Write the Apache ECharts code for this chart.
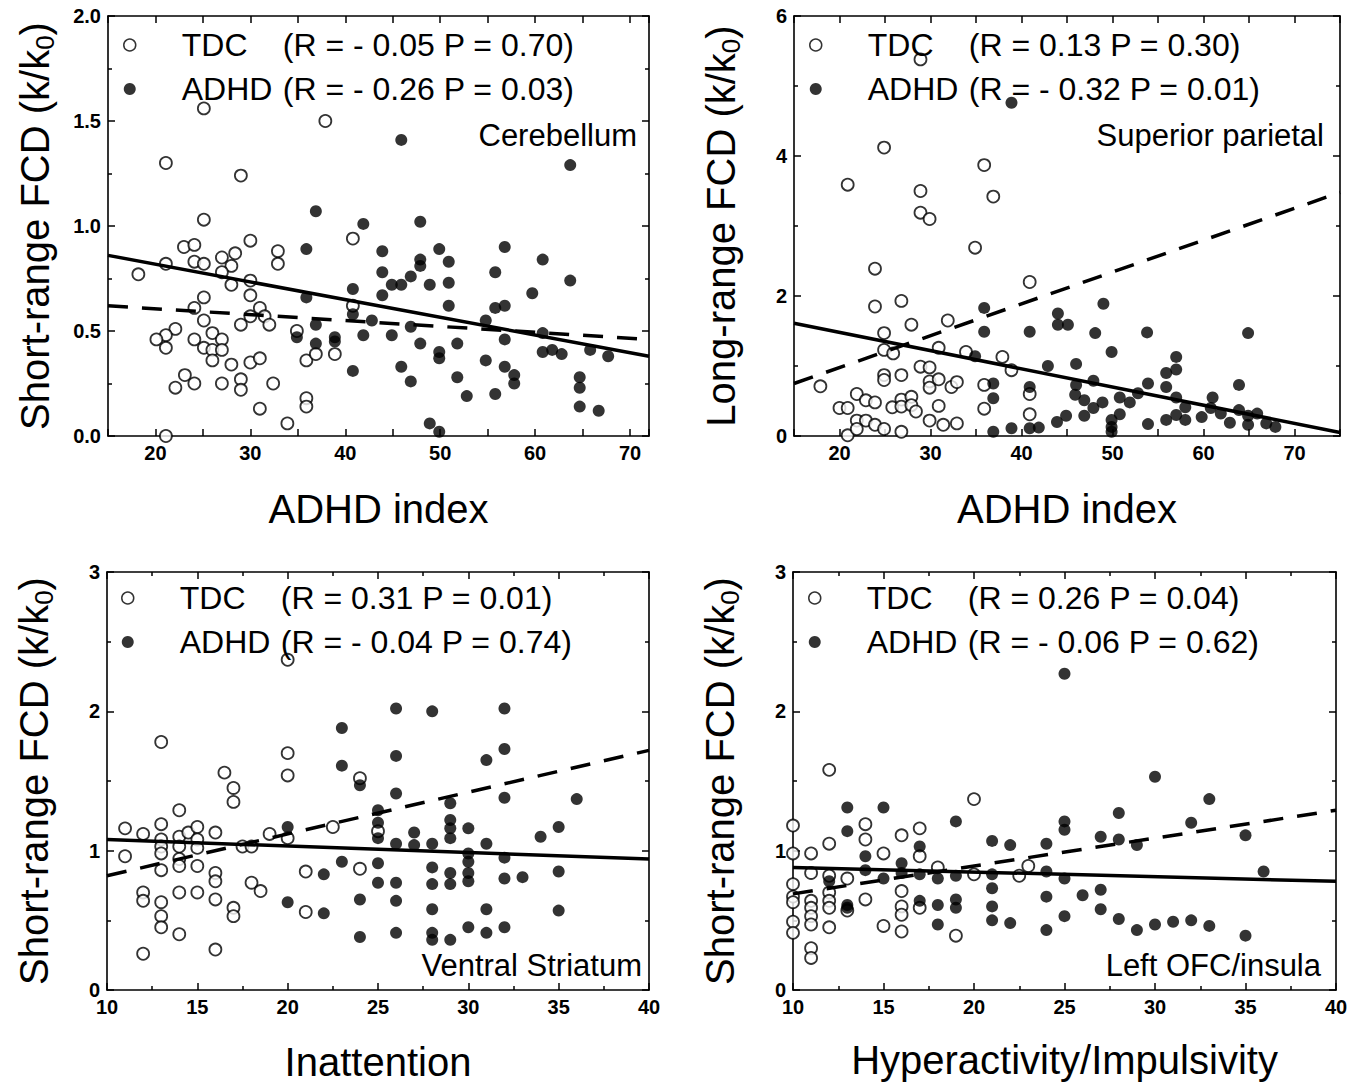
<!DOCTYPE html>
<html><head><meta charset="utf-8">
<script src="https://cdn.jsdelivr.net/npm/echarts/dist/echarts.min.js"></script>
<style>html,body{margin:0;padding:0;background:#fff}#c{width:1365px;height:1092px}</style>
</head><body><div id="c"></div>
<script>
// ---------- DATA ----------
// Panel 1: Cerebellum, short-range FCD vs ADHD index
const tdc1 = [[25.1,1.56],[37.9,1.50],[21.1,1.30],[29.0,1.24],[25.1,1.03],[40.8,0.94],[30.0,0.93],[23.0,0.90],[24.1,0.91],[32.9,0.88],[32.9,0.82],[28.4,0.87],[27.0,0.85],[28.0,0.81],[24.1,0.83],[25.1,0.82],[21.1,0.82],[18.2,0.77],[27.0,0.78],[28.0,0.72],[30.0,0.74],[30.0,0.67],[25.1,0.66],[24.1,0.61],[30.0,0.57],[31.0,0.61],[31.5,0.57],[32.0,0.53],[29.0,0.53],[25.1,0.55],[22.1,0.51],[21.1,0.48],[20.1,0.46],[21.1,0.42],[24.1,0.46],[26.0,0.49],[27.0,0.46],[25.1,0.42],[26.0,0.41],[27.0,0.41],[26.0,0.36],[28.0,0.34],[30.0,0.35],[31.0,0.37],[34.9,0.50],[35.9,0.36],[36.9,0.39],[38.9,0.39],[40.8,0.62],[23.1,0.29],[22.1,0.23],[24.1,0.25],[27.0,0.25],[29.0,0.27],[29.0,0.22],[32.4,0.25],[31.0,0.13],[35.9,0.18],[35.9,0.14],[33.9,0.06],[21.1,0.00]];
const adhd1 = [[36.9,1.07],[41.9,1.01],[35.9,0.89],[40.8,0.70],[35.9,0.66],[36.9,0.53],[34.9,0.47],[36.9,0.44],[38.9,0.47],[38.9,0.45],[40.8,0.58],[42.8,0.55],[41.9,0.48],[40.8,0.31],[45.9,1.41],[63.7,1.29],[47.9,1.02],[43.9,0.88],[49.9,0.89],[50.9,0.83],[56.8,0.90],[60.8,0.84],[47.9,0.84],[47.9,0.81],[43.9,0.78],[46.9,0.76],[44.9,0.72],[45.9,0.72],[48.9,0.72],[50.9,0.73],[55.8,0.78],[63.7,0.74],[59.7,0.68],[43.9,0.67],[50.9,0.62],[55.8,0.61],[56.8,0.62],[46.9,0.52],[54.8,0.55],[44.9,0.48],[47.9,0.44],[51.8,0.44],[56.8,0.46],[49.9,0.40],[49.9,0.37],[54.8,0.36],[45.9,0.33],[56.8,0.33],[60.8,0.49],[60.8,0.40],[61.8,0.41],[62.8,0.39],[65.8,0.41],[67.7,0.38],[46.9,0.26],[51.8,0.28],[57.8,0.29],[57.8,0.25],[64.7,0.28],[64.7,0.23],[52.8,0.19],[55.8,0.20],[64.7,0.14],[66.7,0.12],[48.9,0.06],[49.9,0.02]];
const fitTdc1 = [[15,0.62],[72,0.46]];
const fitAdhd1 = [[15,0.86],[72,0.38]];
const stats1 = ['(R = - 0.05 P = 0.70)', '(R = - 0.26 P = 0.03)'];
const region1 = 'Cerebellum';
const xRange1 = [15, 72];
const xLabels1 = [20, 30, 40, 50, 60, 70];
const yTicks1 = [0, 0.5, 1.0, 1.5, 2.0];

// Panel 2: Superior parietal, long-range FCD vs ADHD index
const tdc2 = [[28.9,5.38],[24.9,4.12],[20.9,3.59],[35.9,3.87],[36.9,3.42],[28.9,3.50],[28.9,3.19],[29.9,3.10],[34.9,2.69],[23.9,2.39],[40.9,2.20],[23.9,1.85],[26.8,1.93],[31.9,1.65],[27.9,1.59],[24.9,1.47],[24.9,1.23],[25.9,1.18],[30.9,1.26],[33.9,1.20],[37.9,1.13],[38.9,0.94],[28.9,0.99],[29.9,0.98],[24.9,0.87],[24.9,0.80],[26.8,0.87],[29.9,0.78],[29.9,0.69],[30.9,0.81],[32.3,0.70],[32.9,0.77],[35.9,0.73],[40.9,0.60],[17.9,0.71],[21.9,0.60],[22.9,0.51],[23.9,0.48],[20.0,0.40],[20.9,0.40],[25.8,0.41],[26.8,0.52],[26.8,0.42],[27.9,0.56],[27.9,0.44],[28.4,0.35],[30.9,0.43],[35.9,0.39],[40.9,0.31],[21.9,0.22],[22.9,0.22],[23.9,0.16],[24.9,0.10],[26.8,0.06],[29.9,0.22],[31.4,0.16],[32.9,0.18],[20.9,0.01],[21.9,0.10]];
const adhd2 = [[38.9,4.76],[35.9,1.83],[35.9,1.49],[40.9,1.49],[34.9,1.14],[36.9,0.75],[36.9,0.54],[40.9,0.70],[42.9,1.00],[36.9,0.06],[38.9,0.11],[40.9,0.11],[41.9,0.12],[43.9,0.20],[44.0,1.75],[44.0,1.59],[45.1,1.59],[49.0,1.89],[48.1,1.47],[53.8,1.48],[64.9,1.47],[49.9,1.20],[46.0,1.03],[57.0,1.13],[57.0,0.95],[55.9,0.90],[47.9,0.79],[46.0,0.73],[55.9,0.70],[53.9,0.75],[63.9,0.73],[45.9,0.59],[46.9,0.51],[50.8,0.55],[51.9,0.48],[52.8,0.61],[57.0,0.55],[58.0,0.41],[61.0,0.55],[60.8,0.40],[47.9,0.40],[48.9,0.48],[46.9,0.29],[44.9,0.29],[50.8,0.31],[49.9,0.23],[49.9,0.13],[49.9,0.06],[53.9,0.17],[55.9,0.23],[57.0,0.30],[58.0,0.23],[59.8,0.27],[61.9,0.32],[62.9,0.19],[63.9,0.37],[64.9,0.29],[64.9,0.16],[65.9,0.32],[66.9,0.18],[67.9,0.13]];
const fitTdc2 = [[15,0.75],[75,3.48]];
const fitAdhd2 = [[15,1.61],[75,0.05]];
const stats2 = ['(R = 0.13 P = 0.30)', '(R = - 0.32 P = 0.01)'];
const region2 = 'Superior parietal';
const xRange2 = [15, 75];
const xLabels2 = [20, 30, 40, 50, 60, 70];
const yTicks2 = [0, 2, 4, 6];

// Panel 3: Ventral Striatum, short-range FCD vs Inattention
const tdc3 = [[20,2.37],[13,1.78],[20,1.70],[20,1.54],[16.5,1.56],[17,1.45],[17,1.35],[14,1.29],[24,1.52],[11,1.16],[12,1.12],[13,1.19],[14,1.10],[14.5,1.13],[15,1.17],[16,1.13],[19,1.12],[20,1.09],[13,1.08],[13,1.03],[14,1.03],[15,1.08],[15,1.02],[13,0.98],[11,0.96],[14,0.94],[14,0.89],[15,0.89],[13,0.86],[17.5,1.03],[18,1.03],[22.5,1.17],[16,0.84],[16,0.78],[18,0.77],[18.5,0.71],[21,0.85],[24,0.87],[12,0.70],[12,0.64],[14,0.70],[15,0.70],[16,0.65],[13,0.63],[13,0.53],[13,0.45],[17,0.59],[17,0.53],[14,0.40],[21,0.56],[12,0.26],[16,0.29],[25,1.14]];
const adhd3 = [[23,1.88],[23,1.61],[24,1.47],[20,1.17],[25,1.29],[23,0.92],[25,0.91],[22,0.83],[25,0.77],[20,0.63],[22,0.55],[24,0.65],[24,0.38],[26,2.02],[28,2.00],[32,2.02],[26,1.68],[32,1.73],[31,1.65],[26,1.41],[32,1.38],[36,1.37],[29,1.34],[29,1.22],[29,1.16],[29,1.09],[30,1.16],[25,1.20],[25,1.09],[26,1.05],[27,1.13],[27,1.04],[28,1.05],[31,1.05],[34,1.10],[35,1.17],[30,0.98],[30,0.92],[32,0.95],[28,0.88],[29,0.84],[30,0.84],[30,0.78],[32,0.80],[33,0.81],[35,0.85],[26,0.77],[28,0.76],[29,0.76],[26,0.64],[28,0.58],[31,0.58],[35,0.57],[26,0.41],[28,0.41],[28,0.36],[29,0.36],[30,0.45],[31,0.41],[32,0.45]];
const fitTdc3 = [[10,0.82],[40,1.72]];
const fitAdhd3 = [[10,1.08],[40,0.94]];
const stats3 = ['(R = 0.31 P = 0.01)', '(R = - 0.04 P = 0.74)'];
const region3 = 'Ventral Striatum';
const xRange3 = [10, 40];
const xLabels3 = [10, 15, 20, 25, 30, 35, 40];
const yTicks3 = [0, 1, 2, 3];

// Panel 4: Left OFC/insula, short-range FCD vs Hyperactivity/Impulsivity
const tdc4 = [[12,1.58],[20,1.37],[10,1.18],[10,0.98],[10,0.76],[10,0.67],[10,0.63],[10,0.49],[10,0.41],[11,0.98],[11,0.84],[11,0.64],[11,0.59],[11,0.53],[11,0.47],[11,0.30],[11,0.23],[12,1.05],[12,0.82],[12,0.70],[12,0.64],[12,0.59],[12,0.45],[13,0.80],[13,0.57],[14,1.19],[14,1.08],[14,0.65],[15,0.98],[15,0.46],[16,1.11],[16,0.71],[16,0.60],[16,0.54],[16,0.42],[17,1.16],[17,0.96],[17,0.59],[18,0.88],[19,0.39],[20,0.83],[22.5,0.82],[23,0.89]];
const adhd4 = [[25,2.27],[13,1.31],[15,1.31],[19,1.21],[13,1.14],[14,0.96],[17,1.03],[21,1.07],[22,1.04],[24,1.05],[25,1.21],[25,1.15],[14,0.86],[12,0.78],[16,0.91],[15,0.80],[16,0.84],[17,0.83],[18,0.80],[19,0.82],[21,0.83],[21,0.73],[24,0.85],[13,0.61],[13,0.59],[17,0.64],[18,0.61],[19,0.65],[19,0.59],[21,0.60],[24,0.67],[25,0.53],[18,0.47],[21,0.50],[22,0.48],[24,0.43],[30,1.53],[33,1.37],[28,1.27],[32,1.20],[27,1.10],[28,1.08],[29,1.04],[35,1.11],[36,0.85],[25,0.80],[26,0.68],[27,0.72],[27,0.58],[28,0.51],[29,0.43],[30,0.47],[31,0.49],[32,0.50],[33,0.46],[35,0.39]];
const fitTdc4 = [[10,0.69],[40,1.29]];
const fitAdhd4 = [[10,0.88],[40,0.78]];
const stats4 = ['(R = 0.26 P = 0.04)', '(R = - 0.06 P = 0.62)'];
const region4 = 'Left OFC/insula';
const xRange4 = [10, 40];
const xLabels4 = [10, 15, 20, 25, 30, 35, 40];
const yTicks4 = [0, 1, 2, 3];

const groups = ['TDC', 'ADHD'];
const xNames = ['ADHD index', 'ADHD index', 'Inattention', 'Hyperactivity/Impulsivity'];
const yNames = ['Short-range FCD', 'Long-range FCD', 'Short-range FCD', 'Short-range FCD'];

// ---------- LAYOUT ----------
const FONT = '"Liberation Sans", Arial, Helvetica, sans-serif';
const panels = [
  {grid:{left:108,top:16,width:541,height:420}, tdc:tdc1, adhd:adhd1, fitT:fitTdc1, fitA:fitAdhd1, stats:stats1, region:region1, xRange:xRange1, xLabels:xLabels1, xMinor:false, yTicks:yTicks1, yDigits:1, legend:{left:123,top:29}, regionRight:1365-637, regionTop:120, xGap:53},
  {grid:{left:794,top:16,width:546,height:420}, tdc:tdc2, adhd:adhd2, fitT:fitTdc2, fitA:fitAdhd2, stats:stats2, region:region2, xRange:xRange2, xLabels:xLabels2, xMinor:false, yTicks:yTicks2, yDigits:0, legend:{left:809,top:29}, regionRight:1365-1324, regionTop:120, xGap:53},
  {grid:{left:107,top:572,width:542,height:418}, tdc:tdc3, adhd:adhd3, fitT:fitTdc3, fitA:fitAdhd3, stats:stats3, region:region3, xRange:xRange3, xLabels:xLabels3, xMinor:true, yTicks:yTicks3, yDigits:0, legend:{left:121,top:582}, regionRight:1365-642, regionTop:950, xGap:52},
  {grid:{left:793,top:572,width:543,height:418}, tdc:tdc4, adhd:adhd4, fitT:fitTdc4, fitA:fitAdhd4, stats:stats4, region:region4, xRange:xRange4, xLabels:xLabels4, xMinor:true, yTicks:yTicks4, yDigits:0, legend:{left:808,top:582}, regionRight:1365-1321, regionTop:950, xGap:50}
];

const tickStyle = {show:true, inside:true, length:7, lineStyle:{color:'#000', width:1.5}};
const minorStyle = (on) => ({show:on, splitNumber:2, length:4, lineStyle:{color:'#000', width:1.5}});
const lineAx = {show:true, onZero:false, lineStyle:{color:'#000', width:1.6}};
const labelStyle = {color:'#000', fontSize:20, fontWeight:'bold', fontFamily:FONT};

const option = {
  animation:false,
  backgroundColor:'#fff',
  grid:[], xAxis:[], yAxis:[], series:[], legend:[], title:[]
};

panels.forEach((p, i) => {
  option.grid.push(Object.assign({containLabel:false}, p.grid));
  const xBase = {gridIndex:i, type:'value', min:p.xRange[0], max:p.xRange[1], interval:5,
    axisLine:lineAx, axisTick:tickStyle, minorTick:minorStyle(p.xMinor), splitLine:{show:false}};
  option.xAxis.push(Object.assign({}, xBase, {position:'bottom',
    axisLabel:Object.assign({margin:7, formatter:(v)=> p.xLabels.indexOf(v) >= 0 ? String(v) : ''}, labelStyle),
    name:xNames[i], nameLocation:'middle', nameGap:p.xGap,
    nameTextStyle:{color:'#000', fontSize:40, fontFamily:FONT}}));
  option.xAxis.push(Object.assign({}, xBase, {position:'top', axisLabel:{show:false}}));
  const yt = p.yTicks;
  const yBase = {gridIndex:i, type:'value', min:yt[0], max:yt[yt.length-1], interval:yt[1]-yt[0],
    axisLine:lineAx, axisTick:tickStyle, minorTick:minorStyle(true), splitLine:{show:false}};
  option.yAxis.push(Object.assign({}, yBase, {position:'left',
    axisLabel:Object.assign({margin:7, formatter:(v)=> v.toFixed(p.yDigits)}, labelStyle),
    name:`{n|${yNames[i]} (k/k}{s|0}{n|)}`, nameLocation:'middle', nameGap:50,
    nameTextStyle:{color:'#000', fontFamily:FONT, rich:{
      n:{fontSize:40, fontFamily:FONT, color:'#000', lineHeight:46},
      s:{fontSize:26, fontFamily:FONT, color:'#000', lineHeight:30, verticalAlign:'bottom'}}}}));
  option.yAxis.push(Object.assign({}, yBase, {position:'right', axisLabel:{show:false}}));

  const nT = groups[0] + ' ' + p.stats[0];
  const nA = groups[1] + ' ' + p.stats[1];
  option.series.push({type:'scatter', name:nT, xAxisIndex:2*i, yAxisIndex:2*i, data:p.tdc,
    symbol:'circle', symbolSize:12, itemStyle:{color:'#fff', borderColor:'#000', borderWidth:1.8}, z:3, emphasis:{disabled:true}});
  option.series.push({type:'scatter', name:nA, xAxisIndex:2*i, yAxisIndex:2*i, data:p.adhd,
    symbol:'circle', symbolSize:12, itemStyle:{color:'#000', borderColor:'#000', borderWidth:0}, z:3, emphasis:{disabled:true}});
  option.series.push({type:'line', name:'fitT'+i, xAxisIndex:2*i, yAxisIndex:2*i, data:p.fitT,
    symbol:'none', showSymbol:false, lineStyle:{color:'#000', width:3.5, type:[20,14]}, z:5, silent:true});
  option.series.push({type:'line', name:'fitA'+i, xAxisIndex:2*i, yAxisIndex:2*i, data:p.fitA,
    symbol:'none', showSymbol:false, lineStyle:{color:'#000', width:3.5, type:'solid'}, z:5, silent:true});

  option.legend.push({orient:'vertical', left:p.legend.left, top:p.legend.top, padding:0,
    itemWidth:94, itemHeight:12, itemGap:12, selectedMode:false,
    data:[
      {name:nT, icon:'circle', itemStyle:{color:'#fff', borderColor:'#000', borderWidth:1.5}},
      {name:nA, icon:'circle', itemStyle:{color:'#000', borderColor:'#000', borderWidth:0}}],
    formatter:(name)=>{const k=name.indexOf(' '); return `{a|${name.slice(0,k)}}{b|${name.slice(k+1)}}`;},
    textStyle:{color:'#000', fontSize:32, fontFamily:FONT, rich:{
      a:{width:101, fontSize:32, fontFamily:FONT, color:'#000', lineHeight:34},
      b:{fontSize:32, fontFamily:FONT, color:'#000', lineHeight:34}}}});

  option.title.push({text:p.region, right:p.regionRight, top:p.regionTop, padding:0,
    textStyle:{color:'#000', fontSize:31, fontWeight:'normal', fontFamily:FONT}});
});

const chart = echarts.init(document.getElementById('c'), null, {renderer:'svg', width:1365, height:1092});
chart.setOption(option);
</script></body></html>
